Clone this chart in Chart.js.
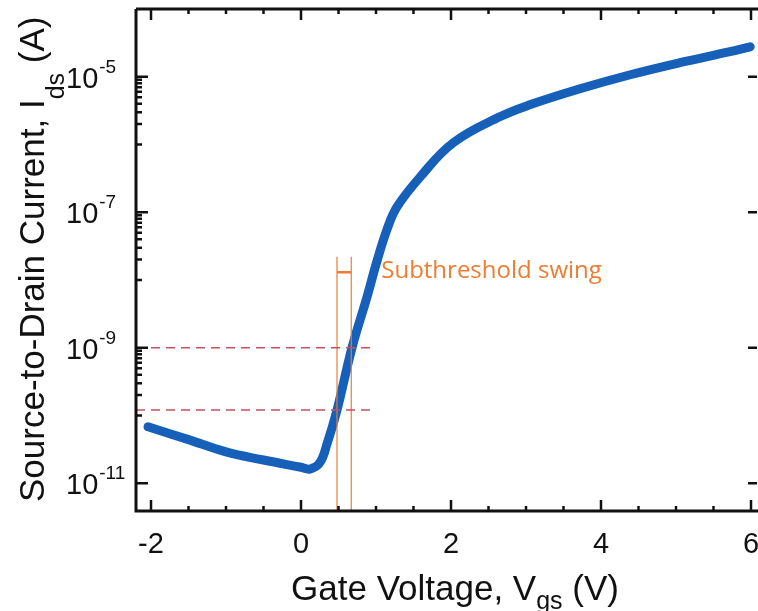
<!doctype html>
<html lang="en">
<head>
<meta charset="UTF-8"/>
<title>Transfer curve</title>
<script src="https://cdn.jsdelivr.net/npm/chart.js@4.4.1/dist/chart.umd.min.js"></script>
<style>
 * { margin: 0; padding: 0; }
 body { background: #fff; }
</style>
</head>
<body>
<canvas id="chart" width="758" height="611"></canvas>
<script>
// transfer curve: gate voltage (V) vs drain current (A)
const vgs = [-2.04, -1.5, -1.0, -0.5, 0.0, 0.12, 0.25, 0.35, 0.48, 0.68, 0.88, 1.01, 1.15, 1.28, 1.59, 2.03, 2.65, 3.05, 3.72, 4.39, 5.05, 5.72, 5.99];
const ids = [6.8e-11, 4.4e-11, 2.9e-11, 2.2e-11, 1.72e-11, 1.62e-11, 2.0e-11, 3.9e-11, 1.2e-10, 1.0e-9, 5.6e-9, 1.85e-8, 5.7e-8, 1.2e-7, 3.33e-7, 1.06e-6, 2.56e-6, 3.85e-6, 6.64e-6, 1.07e-5, 1.61e-5, 2.34e-5, 2.77e-5];

// dashed current levels and the swing window
const levels = [1e-9, 1.2e-10];
const levelEnd = 0.92;
const swingV = [0.48, 0.67];
const swingTop = 2.2e-8;
const swingBar = 1.3e-8;
const swingText = 'Subthreshold swing';

// axes
const xMin = -2.2, xMax = 6.08;
const yMin = Math.pow(10, -11.41), yMax = 1e-4;
const xTicks = [-2, 0, 2, 4, 6];
const xMinor = [-1.5, -1, -0.5, 0.5, 1, 1.5, 2.5, 3, 3.5, 4.5, 5, 5.5];
const yExps = [-11, -9, -7, -5];

const blue = '#1660B9';
const orange = '#ED7D31';
const dashRed = '#C4525F';
const font = '"Liberation Sans", Arial, sans-serif';

let curve = vgs.map((v, i) => ({x: v, y: ids[i]}));

let datasets = [];
levels.forEach(l => {
    datasets.push({
        data: [{x: xMin, y: l}, {x: levelEnd, y: l}],
        borderColor: dashRed, borderWidth: 1.5, borderDash: [9, 6],
        pointRadius: 0, order: 0
    });
});
swingV.forEach(v => {
    datasets.push({
        data: [{x: v, y: yMin}, {x: v, y: swingTop}],
        borderColor: orange, borderWidth: 1.2, pointRadius: 0, order: 0
    });
});
datasets.push({
    data: [{x: swingV[0], y: swingBar}, {x: swingV[1], y: swingBar}],
    borderColor: orange, borderWidth: 2.5, pointRadius: 0, order: 0
});
datasets.push({
    data: curve,
    borderColor: blue, borderWidth: 9, pointRadius: 0,
    borderCapStyle: 'round', borderJoinStyle: 'round',
    tension: 0.4, order: 1
});

// frame, inward ticks, labels and titles
const frame = {
    id: 'frame',
    afterDatasetsDraw(chart) {
        const ctx = chart.ctx;
        const a = chart.chartArea;
        const xs = chart.scales.x, ys = chart.scales.y;
        ctx.save();
        ctx.strokeStyle = '#111';
        ctx.lineWidth = 3;
        ctx.beginPath();
        ctx.moveTo(a.left, a.top);
        ctx.lineTo(a.left, a.bottom);
        ctx.lineTo(758, a.bottom);
        ctx.moveTo(a.left, a.top);
        ctx.lineTo(758, a.top);
        ctx.stroke();

        ctx.lineWidth = 2.5;
        ctx.beginPath();
        xTicks.forEach(v => {
            let px = xs.getPixelForValue(v);
            ctx.moveTo(px, a.bottom); ctx.lineTo(px, a.bottom - 11);
            ctx.moveTo(px, a.top); ctx.lineTo(px, a.top + 11);
        });
        xMinor.forEach(v => {
            let px = xs.getPixelForValue(v);
            ctx.moveTo(px, a.bottom); ctx.lineTo(px, a.bottom - 5);
            ctx.moveTo(px, a.top); ctx.lineTo(px, a.top + 5);
        });
        yExps.forEach(e => {
            let py = ys.getPixelForValue(Math.pow(10, e));
            ctx.moveTo(a.left, py); ctx.lineTo(a.left + 12, py);
            ctx.moveTo(a.right, py); ctx.lineTo(a.right - 9, py);
            if (e > -11) {
                for (let k = 1; k < 10; k++) {
                    let my = ys.getPixelForValue(k * Math.pow(10, e - 1));
                    ctx.moveTo(a.left, my); ctx.lineTo(a.left + 6, my);
                }
            }
        });
        ctx.stroke();

        // tick labels
        ctx.fillStyle = '#111';
        ctx.font = '29px ' + font;
        ctx.textAlign = 'center';
        ctx.textBaseline = 'alphabetic';
        xTicks.forEach(v => {
            ctx.fillText(String(v), xs.getPixelForValue(v), 553);
        });
        ctx.textAlign = 'left';
        yExps.forEach(e => {
            let py = ys.getPixelForValue(Math.pow(10, e));
            ctx.font = '29px ' + font;
            ctx.fillText('10', 66, py + 11);
            let w = ctx.measureText('10').width;
            ctx.font = '19px ' + font;
            ctx.fillText(String(e), 66 + w + 1, py - 4);
        });

        // x title
        let p1 = 'Gate Voltage, V', sub = 'gs', p2 = ' (V)';
        ctx.font = '35px ' + font;
        let w1 = ctx.measureText(p1).width, w3 = ctx.measureText(p2).width;
        ctx.font = '25px ' + font;
        let w2 = ctx.measureText(sub).width;
        let x0 = 455 - (w1 + w2 + w3) / 2;
        ctx.font = '35px ' + font;
        ctx.fillText(p1, x0, 600);
        ctx.fillText(p2, x0 + w1 + w2, 600);
        ctx.font = '25px ' + font;
        ctx.fillText(sub, x0 + w1, 609);

        // y title
        ctx.save();
        ctx.translate(44, 502);
        ctx.rotate(-Math.PI / 2);
        let q1 = 'Source-to-Drain Current, I', q2 = ' (A)';
        ctx.font = '35px ' + font;
        ctx.fillText(q1, 0, 0);
        let v1 = ctx.measureText(q1).width;
        ctx.font = '25px ' + font;
        ctx.fillText('ds', v1, 20);
        let v2 = ctx.measureText('ds').width;
        ctx.font = '35px ' + font;
        ctx.fillText(q2, v1 + v2, 0);
        ctx.restore();

        // annotation text
        ctx.fillStyle = orange;
        ctx.font = '24px "Open Sans", sans-serif';
        ctx.textBaseline = 'middle';
        ctx.fillText(swingText, xs.getPixelForValue(1.07), ys.getPixelForValue(swingBar) - 1);
        ctx.restore();
    }
};

new Chart(document.getElementById('chart'), {
    type: 'line',
    data: { datasets: datasets },
    options: {
        responsive: false,
        animation: false,
        layout: { padding: { left: 136, right: 1, top: 9, bottom: 100 } },
        plugins: { legend: { display: false }, tooltip: { enabled: false } },
        scales: {
            x: { type: 'linear', min: xMin, max: xMax, display: false },
            y: { type: 'logarithmic', min: yMin, max: yMax, display: false, bounds: 'data' }
        }
    },
    plugins: [frame]
});
</script>
</body>
</html>
